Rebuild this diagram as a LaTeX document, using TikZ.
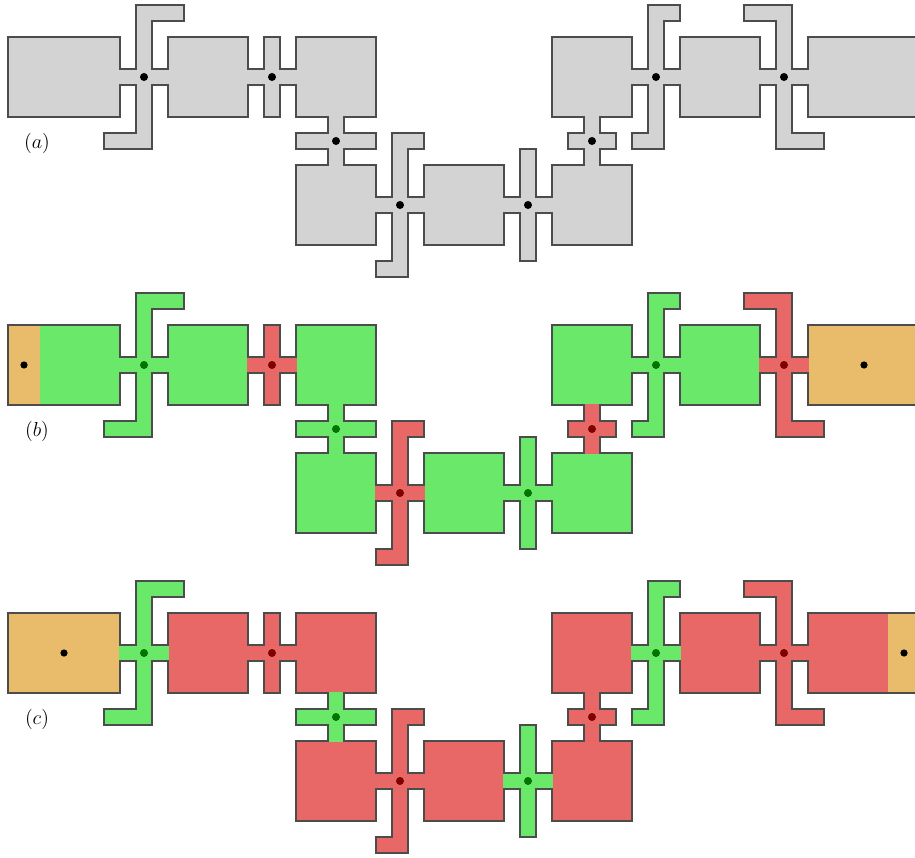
\documentclass[tikz,border=0pt]{standalone}
\usetikzlibrary{calc}
\definecolor{cellgray}{RGB}{211,211,211}
\definecolor{cellgreen}{RGB}{106,232,106}
\definecolor{cellred}{RGB}{232,104,104}
\definecolor{cellorange}{RGB}{232,188,106}
\colorlet{cellgraydot}{black}
\definecolor{cellgreendot}{RGB}{0,118,0}
\definecolor{cellreddot}{RGB}{128,0,0}
\tikzset{cell/.style={draw=black!70,line width=0.75pt,line join=miter}}

\begin{document}
\begin{tikzpicture}[x=0.4cm,y=-0.4cm]
        \newcommand{\chainsq}[3]{\draw[cell,fill=#3] (#1,#2) rectangle ++(5,5);}
        \newcommand{\chainpin}[5]{%
            \begin{scope}[shift={(#1,#2)},xscale=#4]
                \draw[cell,fill=#5] (-0.5,-4.5) -- (0.5+#3,-4.5) -- (0.5+#3,-3.5) -- (0.5,-3.5) -- (0.5,-0.5) -- (1.5,-0.5) -- (1.5,0.5) -- (0.5,0.5) -- (0.5,4.5) -- (-0.5-#3,4.5) -- (-0.5-#3,3.5) -- (-0.5,3.5) -- (-0.5,0.5) -- (-1.5,0.5) -- (-1.5,-0.5) -- (-0.5,-0.5) -- cycle;
                \fill[#5] (-1.55,-0.46) rectangle (-1.45,0.46);
                \fill[#5] (1.45,-0.46) rectangle (1.55,0.46);
                \fill[#5dot] (0,0) circle (0.1cm);
            \end{scope}}
        \newcommand{\chaincrossh}[5]{%
            \begin{scope}[shift={(#1,#2)}]
                \draw[cell,fill=#5] (-0.5,-#4) -- (0.5,-#4) -- (0.5,-0.5) -- (#3,-0.5) -- (#3,0.5) -- (0.5,0.5) -- (0.5,#4) -- (-0.5,#4) -- (-0.5,0.5) -- (-#3,0.5) -- (-#3,-0.5) -- (-0.5,-0.5) -- cycle;
                \fill[#5] (-#3-0.05,-0.46) rectangle (-#3+0.05,0.46);
                \fill[#5] (#3-0.05,-0.46) rectangle (#3+0.05,0.46);
                \fill[#5dot] (0,0) circle (0.1cm);
            \end{scope}}
        \newcommand{\chaincrossv}[5]{%
            \begin{scope}[shift={(#1,#2)}]
                \draw[cell,fill=#5] (-0.5,-#4) -- (0.5,-#4) -- (0.5,-0.5) -- (#3,-0.5) -- (#3,0.5) -- (0.5,0.5) -- (0.5,#4) -- (-0.5,#4) -- (-0.5,0.5) -- (-#3,0.5) -- (-#3,-0.5) -- (-0.5,-0.5) -- cycle;
                \fill[#5] (-0.46,-#4-0.05) rectangle (0.46,-#4+0.05);
                \fill[#5] (-0.46,#4-0.05) rectangle (0.46,#4+0.05);
                \fill[#5dot] (0,0) circle (0.1cm);
            \end{scope}}
        \newcommand{\chainmiddle}[9]{%
            \chainsq{10}{0}{#1} \chainsq{18}{0}{#1} \chainsq{18}{8}{#1} \chainsq{26}{8}{#1}
            \chainsq{34}{8}{#1} \chainsq{34}{0}{#1} \chainsq{42}{0}{#1}
            \chainpin{8.5}{2.5}{2}{1}{#2}
            \chaincrossh{16.5}{2.5}{1.5}{2.5}{#3}
            \chaincrossv{20.5}{6.5}{2.5}{1.5}{#4}
            \chainpin{24.5}{10.5}{1}{1}{#5}
            \chaincrossh{32.5}{10.5}{1.5}{3.5}{#6}
            \chaincrossv{36.5}{6.5}{1.5}{1.5}{#7}
            \chainpin{40.5}{2.5}{1}{1}{#8}
            \chainpin{48.5}{2.5}{2}{-1}{#9}}
        \clip (-0.5,-2.3125) rectangle (56.6875,51.25);
        % (a)
        \draw[cell,fill=cellgray] (0,0) rectangle (7,5);
        \draw[cell,fill=cellgray] (50,0) rectangle (57,5);
        \chainmiddle{cellgray}{cellgray}{cellgray}{cellgray}{cellgray}{cellgray}{cellgray}{cellgray}{cellgray}
        \node[font=\Large] (lbla) at (1.8125,6.625) {$(a)$};
        % (b)
        \begin{scope}[shift={(0,18)}]
            \fill[cellorange] (0,0) rectangle (2,5);
            \fill[cellgreen] (2,0) rectangle (7,5);
            \draw[cell] (0,0) rectangle (7,5);
            \draw[cell,fill=cellorange] (50,0) rectangle (57,5);
            \chainmiddle{cellgreen}{cellgreen}{cellred}{cellgreen}{cellred}{cellgreen}{cellred}{cellgreen}{cellred}
            \fill (1,2.5) circle (0.09cm);
            \fill (53.5,2.5) circle (0.09cm);
            \node[font=\Large] (lblb) at (1.8125,6.625) {$(b)$};
        \end{scope}
        % (c)
        \begin{scope}[shift={(0,36)}]
            \draw[cell,fill=cellorange] (0,0) rectangle (7,5);
            \fill[cellred] (50,0) rectangle (55,5);
            \fill[cellorange] (55,0) rectangle (57,5);
            \draw[cell] (50,0) rectangle (57,5);
            \chainmiddle{cellred}{cellgreen}{cellred}{cellgreen}{cellred}{cellgreen}{cellred}{cellgreen}{cellred}
            \fill (3.5,2.5) circle (0.09cm);
            \fill (56,2.5) circle (0.09cm);
            \node[font=\Large] (lblc) at (1.8125,6.625) {$(c)$};
        \end{scope}
    \end{tikzpicture}
\end{document}
